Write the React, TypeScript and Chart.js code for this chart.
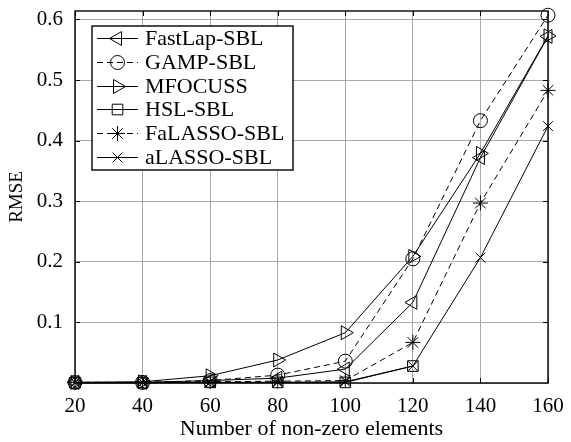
import React, { useEffect, useRef } from 'react';
import { Chart, registerables } from 'chart.js';
import { drawPoint } from 'chart.js/helpers';

Chart.register(...registerables);

const categories = ['20', '40', '60', '80', '100', '120', '140', '160'];
const fastLapSBL = [0.001, 0.001, 0.004, 0.008, 0.023, 0.133, 0.372, 0.572];
const gampSBL = [0.001, 0.001, 0.004, 0.013, 0.036, 0.205, 0.433, 0.607];
const mfocuss = [0.001, 0.002, 0.012, 0.038, 0.083, 0.209, 0.379, 0.573];
const hslSBL = [0.0005, 0.0005, 0.001, 0.001, 0.001, 0.028, null, null];
const faLassoSBL = [0.001, 0.001, 0.002, 0.003, 0.004, 0.067, 0.297, 0.483];
const aLassoSBL = [0.0005, 0.0005, 0.001, 0.001, 0.002, 0.028, 0.207, 0.424];
const seriesNames = ['FastLap-SBL', 'GAMP-SBL', 'MFOCUSS', 'HSL-SBL', 'FaLASSO-SBL', 'aLASSO-SBL'];
const yTickValues = [0.1, 0.2, 0.3, 0.4, 0.5, 0.6];

const FONT = '"Liberation Serif", "Times New Roman", serif';

export default function App() {
  const ref = useRef<HTMLCanvasElement>(null);

  useEffect(() => {
    if (!ref.current) return;
    const mk = (label: string, data: (number | null)[], style: string, rotation: number, radius: number, dash: number[]) => ({
      label,
      data,
      borderColor: '#000',
      borderWidth: 1,
      borderDash: dash,
      pointStyle: style,
      pointRotation: rotation,
      pointRadius: radius,
      pointHoverRadius: radius,
      pointBorderColor: '#000',
      pointBackgroundColor: 'rgba(0,0,0,0)',
      pointBorderWidth: 1,
      tension: 0,
      fill: false,
      clip: false as any,
      spanGaps: false,
    });

    const datasets = [
      mk(seriesNames[0], fastLapSBL, 'triangle', -90, 8, []),
      mk(seriesNames[1], gampSBL, 'circle', 0, 7, [6, 4]),
      mk(seriesNames[2], mfocuss, 'triangle', 90, 8, []),
      mk(seriesNames[3], hslSBL, 'rect', 0, 7.5, []),
      mk(seriesNames[4], faLassoSBL, 'star', 0, 7.5, [6, 4]),
      mk(seriesNames[5], aLassoSBL, 'crossRot', 0, 7, []),
    ];

    const framePlugin = {
      id: 'frame',
      afterDatasetsDraw(chart: any) {
        const { ctx, chartArea: a, scales } = chart;
        ctx.save();
        ctx.strokeStyle = '#000';
        ctx.lineWidth = 1;
        ctx.setLineDash([]);
        const tl = 5;
        ctx.beginPath();
        categories.forEach((_, i) => {
          const x = Math.round(scales.x.getPixelForValue(i)) + 0.5;
          ctx.moveTo(x, a.bottom);
          ctx.lineTo(x, a.bottom - tl);
          ctx.moveTo(x, a.top);
          ctx.lineTo(x, a.top + tl);
        });
        yTickValues.forEach((v) => {
          const y = Math.round(scales.y.getPixelForValue(v)) + 0.5;
          ctx.moveTo(a.left, y);
          ctx.lineTo(a.left + tl, y);
          ctx.moveTo(a.right, y);
          ctx.lineTo(a.right - tl, y);
        });
        ctx.stroke();
        ctx.lineWidth = 1.4;
        ctx.strokeRect(a.left, a.top, a.right - a.left, a.bottom - a.top);
        ctx.restore();
      },
    };

    const legendPlugin = {
      id: 'customLegend',
      afterDraw(chart: any) {
        const { ctx } = chart;
        const bx = 92, by = 26, bw = 201, bh = 144;
        ctx.save();
        ctx.fillStyle = '#fff';
        ctx.fillRect(bx, by, bw, bh);
        ctx.strokeStyle = '#000';
        ctx.lineWidth = 1.4;
        ctx.setLineDash([]);
        ctx.strokeRect(bx, by, bw, bh);
        const rowH = 23.8;
        chart.data.datasets.forEach((ds: any, i: number) => {
          const y = Math.round(by + 12 + i * rowH) + 0.5;
          ctx.strokeStyle = '#000';
          ctx.lineWidth = 1;
          ctx.setLineDash(ds.borderDash || []);
          ctx.beginPath();
          ctx.moveTo(97, y);
          ctx.lineTo(138, y);
          ctx.stroke();
          ctx.setLineDash([]);
          ctx.fillStyle = 'rgba(0,0,0,0)';
          drawPoint(ctx, { pointStyle: ds.pointStyle, rotation: ds.pointRotation, radius: ds.pointRadius, borderWidth: 1 } as any, 117.5, y);
          ctx.fillStyle = '#000';
          ctx.font = `22px ${FONT}`;
          ctx.textAlign = 'left';
          ctx.textBaseline = 'middle';
          ctx.fillText(ds.label, 145, y + 1);
        });
        ctx.restore();
      },
    };

    const chart = new Chart(ref.current, {
      type: 'line',
      data: { labels: categories, datasets: datasets as any },
      options: {
        animation: false,
        responsive: false,
        devicePixelRatio: 1,
        layout: { padding: { left: 0, top: 11, right: 23, bottom: 0 } },
        plugins: { legend: { display: false }, tooltip: { enabled: false } },
        scales: {
          x: {
            type: 'category',
            offset: false,
            grid: { color: '#a8a8a8', lineWidth: 1, drawTicks: false },
            border: { display: false },
            ticks: { color: '#000', font: { family: FONT, size: 21 }, padding: 11, maxRotation: 0, autoSkip: false },
            title: { display: true, text: 'Number of non-zero elements', color: '#000', font: { family: FONT, size: 22 }, padding: { top: 0, bottom: 0 } },
            afterFit(scale: any) {
              scale.height = 59;
              scale.paddingLeft = 0;
              scale.paddingRight = 0;
            },
          },
          y: {
            type: 'linear',
            min: 0,
            max: 0.614,
            grid: { color: '#a8a8a8', lineWidth: 1, drawTicks: false },
            border: { display: false },
            ticks: {
              stepSize: 0.1,
              includeBounds: false,
              color: '#000',
              font: { family: FONT, size: 21 },
              padding: 12,
              callback: (v: any) => (Math.abs(v) < 1e-9 ? '' : Number(v).toFixed(1)),
            },
            title: { display: true, text: 'RMSE', color: '#000', font: { family: FONT, size: 19 }, padding: { top: 6, bottom: 0 } },
            afterFit(scale: any) {
              scale.width = 75;
              scale.paddingTop = 0;
              scale.paddingBottom = 0;
            },
          },
        },
      },
      plugins: [framePlugin, legendPlugin],
    });
    return () => chart.destroy();
  }, []);

  return (
    <div style={{ position: 'absolute', left: 0, top: 0, width: 571, height: 442, background: '#fff' }}>
      <canvas ref={ref} width={571} height={442} />
    </div>
  );
}
